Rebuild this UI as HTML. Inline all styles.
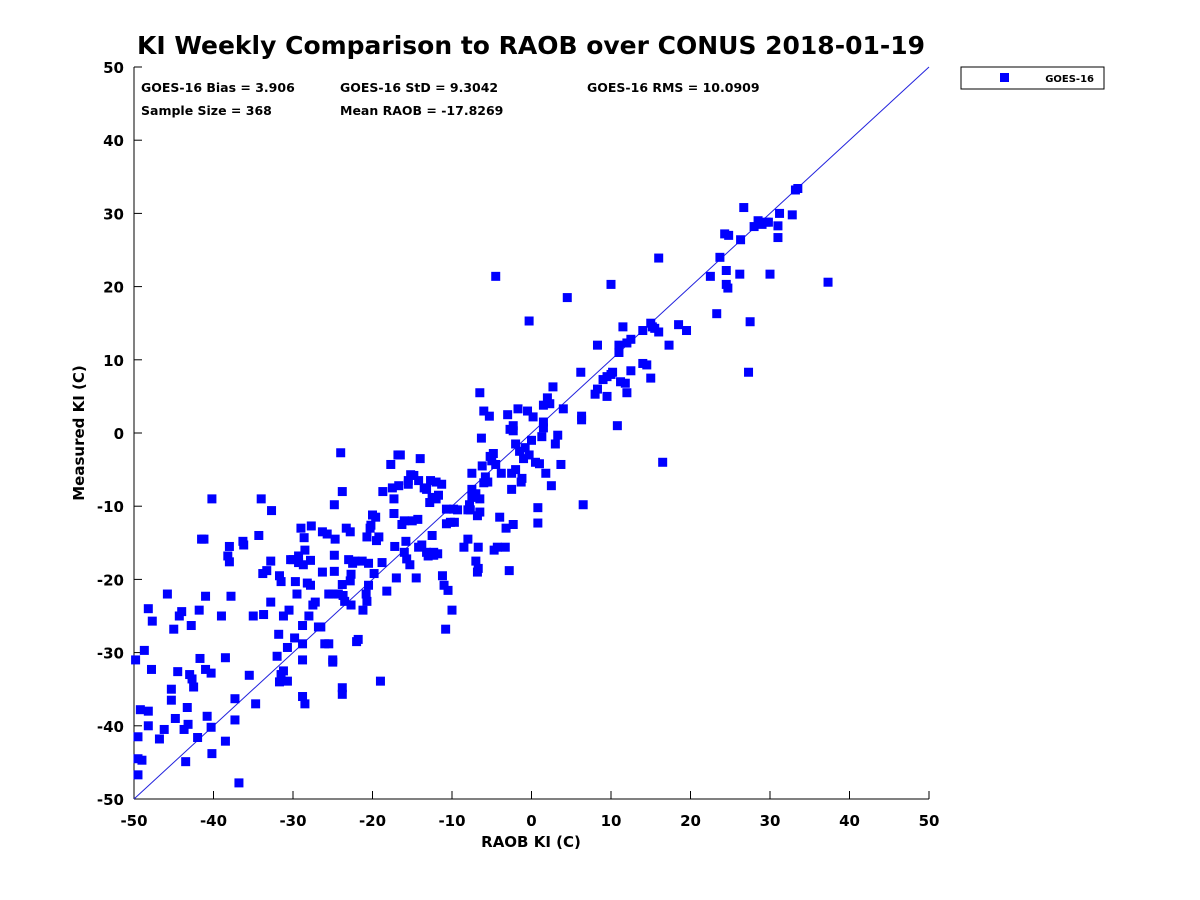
<!DOCTYPE html>
<html><head><meta charset="utf-8"><style>
html,body{margin:0;padding:0;background:#fff;}
svg{display:block;font-family:"DejaVu Sans","Liberation Sans",sans-serif;font-weight:bold;}
</style></head><body>
<svg id="chart" width="1200" height="900" viewBox="0 0 1200 900" xmlns="http://www.w3.org/2000/svg">
<rect width="1200" height="900" fill="#fff"/>
<text x="531" y="54" font-size="25" text-anchor="middle" textLength="788" lengthAdjust="spacingAndGlyphs">KI Weekly Comparison to RAOB over CONUS 2018-01-19</text>
<text x="141" y="92" font-size="12.5">GOES-16 Bias = 3.906</text>
<text x="340" y="92" font-size="12.5">GOES-16 StD = 9.3042</text>
<text x="587" y="92" font-size="12.5">GOES-16 RMS = 10.0909</text>
<text x="141" y="115" font-size="12.5">Sample Size = 368</text>
<text x="340" y="115" font-size="12.5">Mean RAOB = -17.8269</text>
<g id="axes"></g>
<g id="marks"></g>
<text x="531" y="847" font-size="15" text-anchor="middle">RAOB KI (C)</text>
<text transform="translate(84,433) rotate(-90)" font-size="15" text-anchor="middle">Measured KI (C)</text>
<g>
<rect x="961" y="67" width="143" height="22" fill="#fff" stroke="#000" stroke-width="1"/>
<rect x="1000" y="73" width="9" height="9" fill="#0000ff"/>
<text x="1094" y="82" font-size="10" text-anchor="end">GOES-16</text>
</g>
</svg>
<script>
const xTicks=[-50,-40,-30,-20,-10,0,10,20,30,40,50];
const yTicks=[-50,-40,-30,-20,-10,0,10,20,30,40,50];
const raobX=[-49.8,-49.5,-49.5,-49.5,-49.2,-49,-48.7,-48.2,-48.2,-48.2,-47.8,-47.7,-46.8,-46.2,-45.8,-45.3,-45.3,-45,-44.8,-44.5,-44.3,-44,-43.7,-43.5,-43.3,-43.2,-43,-42.8,-42.7,-42.5,-42,-41.8,-41.7,-41.5,-41.2,-41,-41,-40.8,-40.3,-40.3,-40.2,-40.2,-39,-38.5,-38.5,-38.2,-38,-38,-37.8,-37.3,-37.3,-36.8,-36.2,-36.3,-35.5,-35,-34.7,-34.3,-34,-33.8,-33.7,-33.3,
-32.7,-32.8,-32.8,-32,-31.7,-31.8,-31.7,-31.5,-31.5,-31.2,-31.2,-30.7,-30.7,-30.5,-30.3,-30,-29.8,-29.7,-29.5,-29.3,-29.3,-29,-28.8,-28.8,-28.8,-28.8,-28.7,-28.6,-28.5,-28.5,-28.2,-28,-27.8,-27.8,-27.7,-27.5,-27.2,-26.8,-26.5,-26.3,-26.3,-26,-25.7,-25.5,-25.5,-25,-25,-25,-24.8,-24.8,-24.8,-24.7,-24.3,-24,-23.8,-23.7,-23.8,-23.8,-23.8,-23.5,-23.3,-23,-22.8,-22.8,-22.7,-22.7,-22.5,-22.2,-22,-21.8,-21.3,-21.2,-20.8,-20.7,-20.7,-20.5,-20.5,-20.3,-20.2,-20,-19.8,-19.6,-19.5,-19.2,
-19,-18.8,-18.7,-18.2,-17.7,-17.5,-17.3,-17.3,-17.2,-17,-16.8,-16.7,-16.5,-16.3,-16,-16,-15.8,-15.7,-15.5,-15.5,-15.3,-15.2,-15,-14.8,-14.5,-14.3,-14.2,-14.2,-14,-13.8,-13.5,-13.2,-13.2,-13,-12.7,-12.8,-12.5,-12.5,-12.3,-12.3,-12,-12,-11.7,-11.8,-11.3,-11.2,-11,-10.8,-10.7,-10.7,-10.5,-10.2,-10,-9.8,-9.7,-9.3,
-8.5,-8,-8,-7.8,-7.7,-7.5,-7.5,-7.5,-7.2,-7,-7,-6.8,-6.8,-6.7,-6.7,-6.5,-6.5,-6.5,-6.3,-6.2,-6,-6,-5.8,-5.5,-5.3,-5.2,-5,-4.8,-4.7,-4.5,-4.5,-4.3,-4,-3.8,-3.3,-3.2,-3,-2.8,-2.7,-2.5,-2.5,-2.3,-2.3,-2.3,-2,-2,-1.7,-1.5,-1.3,-1.2,-1,-0.8,-0.5,-0.3,-0.3,0,0.2,0.5,0.8,0.8,1,1.3,1.5,1.5,1.5,1.8,2,2.3,2.5,2.7,3,3.3,3.7,4,4.5,
6.2,6.3,6.3,6.5,8,8.3,8.3,9,9.5,9.5,10,10,10.2,10.8,11,11,11.2,11.5,11.8,12,12,12.5,12.5,14,14,14.5,15,15.2,15,15.5,16,16,16.5,17.3,18.5,19.5,
22.5,23.3,23.7,24.3,24.5,24.5,24.7,24.8,26.2,26.3,26.7,27.3,27.5,28,28.5,29,29.5,29.8,30,31,31,31.2,32.8,33.2,33.5,37.3];
const measuredY=[-31,-41.5,-44.5,-46.7,-37.8,-44.7,-29.7,-38,-40,-24,-32.3,-25.7,-41.8,-40.5,-22,-35,-36.5,-26.8,-39,-32.6,-25,-24.4,-40.5,-44.9,-37.5,-39.8,-33,-26.3,-33.6,-34.7,-41.6,-24.2,-30.8,-14.5,-14.5,-32.3,-22.3,-38.7,-32.8,-40.2,-43.8,-9,-25,-30.7,-42.1,-16.8,-17.6,-15.5,-22.3,-39.2,-36.3,-47.8,-15.3,-14.8,-33.1,-25,-37,-14,-9,-19.2,-24.8,-18.8,
-10.6,-17.5,-23.1,-30.5,-34,-27.5,-19.5,-33,-20.3,-32.5,-25,-29.3,-33.9,-24.2,-17.3,-17.3,-28,-20.3,-22,-17.7,-16.8,-13,-31,-36,-26.3,-28.8,-18,-14.3,-16,-37,-20.5,-25,-17.4,-20.8,-12.7,-23.5,-23.1,-26.5,-26.5,-19,-13.5,-28.8,-13.8,-28.8,-22,-22,-31,-31.3,-9.8,-18.9,-16.7,-14.5,-22,-2.7,-8,-22.2,-34.8,-35.7,-20.7,-23,-13,-17.3,-20.2,-13.5,-19.3,-23.5,-17.8,-17.5,-28.5,-28.2,-17.5,-24.2,-22,-23,-14.2,-17.8,-20.8,-13,-12.6,-11.2,-19.2,-11.5,-14.7,-14.2,
-33.9,-17.7,-8,-21.6,-4.3,-7.5,-9,-11,-15.5,-19.8,-3,-7.2,-3,-12.5,-16.3,-12,-14.8,-17.2,-6.5,-7,-18,-5.7,-12,-5.8,-19.8,-11.8,-15.6,-6.5,-3.5,-15.3,-7.5,-7.7,-16.3,-16.8,-6.5,-9.5,-14,-8.8,-16.7,-16.3,-9,-6.7,-8.5,-16.5,-7,-19.5,-20.8,-26.8,-12.4,-10.4,-21.5,-12.2,-24.2,-10.4,-12.2,-10.5,
-15.6,-14.5,-10.5,-9.8,-10.5,-8.7,-5.5,-7.7,-8.8,-17.5,-8.3,-19,-11.3,-15.6,-18.5,5.5,-10.8,-9,-0.7,-4.5,-6.8,3,-6,-6.7,2.3,-3.2,-3.8,-2.8,-16,21.4,-4.3,-15.6,-11.5,-5.5,-15.6,-13,2.5,-18.8,0.5,-5.5,-7.7,0.3,1,-12.5,-5,-1.5,3.3,-2.5,-6.7,-6.2,-3.5,-2,3,-3,15.3,-1,2.2,-4,-10.2,-12.3,-4.2,-0.5,0.7,3.8,1.5,-5.5,4.8,4,-7.2,6.3,-1.5,-0.3,-4.3,3.3,18.5,
8.3,2.3,1.8,-9.8,5.3,12,6,7.3,5,7.7,20.3,8,8.3,1,11,12,7,14.5,6.8,12.3,5.5,12.8,8.5,9.5,14,9.3,15,14.5,7.5,14.3,23.9,13.8,-4,12,14.8,14,
21.4,16.3,24,27.2,22.2,20.3,19.8,27,21.7,26.4,30.8,8.3,15.2,28.2,29,28.5,28.8,28.8,21.7,26.7,28.3,30,29.8,33.2,33.4,20.6];

const X0=134,X1=929,Y0=799,Y1=67;
function xs(v){return X0+(v+50)/100*(X1-X0);}
function ys(v){return Y0-(v+50)/100*(Y0-Y1);}
const NS="http://www.w3.org/2000/svg";
const axes=document.getElementById('axes');
const marks=document.getElementById('marks');
function mk(tag,attrs,parent){const e=document.createElementNS(NS,tag);for(const k in attrs)e.setAttribute(k,attrs[k]);parent.appendChild(e);return e;}

let l=mk('line',{x1:X0,y1:Y1,x2:X0,y2:Y0,stroke:'#000','stroke-width':1},axes);


l=mk('line',{x1:X0,y1:Y0,x2:X1,y2:Y0,stroke:'#000','stroke-width':1},axes);


xTicks.forEach(v=>{
  const x=xs(v);
  const t=mk('line',{x1:x,y1:Y0,x2:x,y2:Y0-8,stroke:'#000'},axes);
  
  
  const tx=mk('text',{x:x,y:Y0+27,'font-size':15,'text-anchor':'middle'},axes);
  tx.textContent=v;
  
  
});
yTicks.forEach(v=>{
  const y=ys(v);
  const t=mk('line',{x1:X0,y1:y,x2:X0+8,y2:y,stroke:'#000'},axes);
  
  
  const tx=mk('text',{x:X0-10,y:y+6,'font-size':15,'text-anchor':'end'},axes);
  tx.textContent=v;
  
  
});
const d=mk('line',{x1:xs(-50),y1:ys(-50),x2:xs(50),y2:ys(50),stroke:'#2222dd','stroke-width':1},marks);


const n=Math.min(raobX.length,measuredY.length);
for(let i=0;i<n;i++){
  const r=mk('rect',{x:xs(raobX[i])-4.5,y:ys(measuredY[i])-4.5,width:9,height:9,fill:'#0000ff'},marks);
  
  
}
</script>
</body></html>
